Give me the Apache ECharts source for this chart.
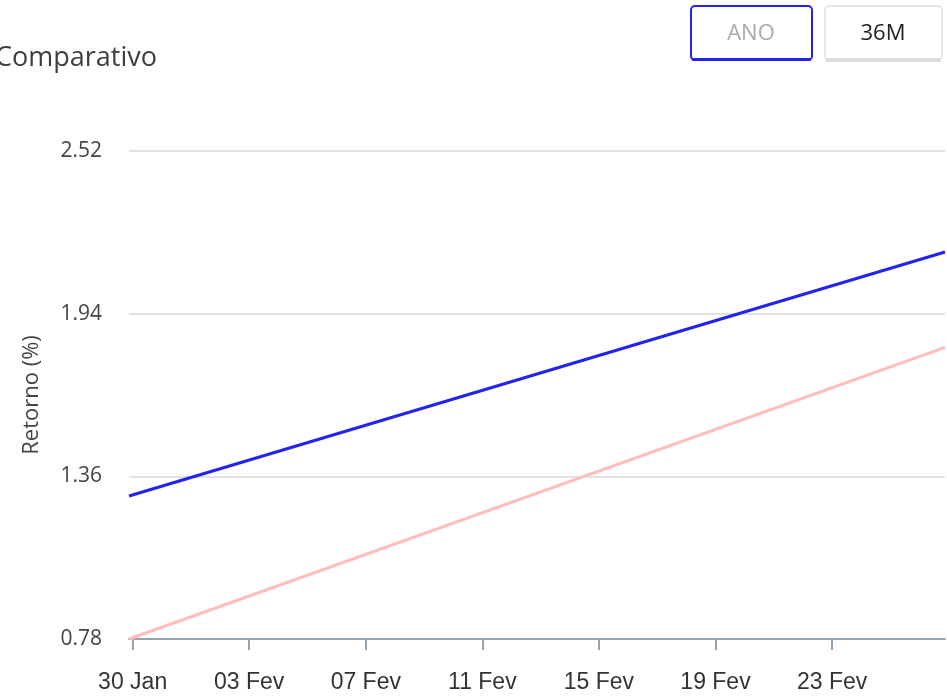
<!DOCTYPE html>
<html>
<head>
<meta charset="utf-8">
<script src="https://cdn.jsdelivr.net/npm/echarts@6/dist/echarts.min.js"></script>
<style>
  html, body { margin: 0; padding: 0; background: #fff; }
  #chart { width: 947px; height: 696px; }
</style>
</head>
<body>
<div id="chart"></div>
<script>
// dias a partir de 30 Jan (hora local), pontos vêm em UTC -> -3h
var xDays = [-0.125, 27.875];
var retornoFundo = [1.29, 2.16];
var retornoBench = [0.78, 1.82];
var xTickDays = [0, 4, 8, 12, 16, 20, 24];
var xTickLabels = ['30 Jan', '03 Fev', '07 Fev', '11 Fev', '15 Fev', '19 Fev', '23 Fev'];
var yTicks = [0.78, 1.36, 1.94, 2.52];

function pares(xs, ys) {
    return xs.map(function (x, i) { return [x, ys[i]]; });
}

var chart = echarts.init(document.getElementById('chart'));
var option = {
    animation: false,
    title: {
        text: 'Comparativo',
        left: -10,
        top: 40,
        textStyle: {
            fontFamily: 'Open Sans',
            fontSize: 27,
            fontWeight: 'normal',
            color: '#3b4044'
        }
    },
    grid: {
        left: 129,
        right: 2,
        top: 151,
        bottom: 57
    },
    xAxis: {
        type: 'value',
        min: xDays[0],
        max: xDays[xDays.length - 1],
        splitLine: { show: false },
        axisLine: { lineStyle: { color: '#94a3ae', width: 2 } },
        axisTick: {
            customValues: xTickDays,
            length: 11,
            lineStyle: { color: '#94a3ae', width: 2 }
        },
        axisLabel: {
            customValues: xTickDays,
            margin: 32,
            fontFamily: 'Liberation Sans',
            fontSize: 23,
            color: '#333',
            formatter: function (v) {
                var i = xTickDays.indexOf(Math.round(v));
                return i >= 0 ? xTickLabels[i] : '';
            }
        }
    },
    yAxis: {
        type: 'value',
        min: yTicks[0],
        max: yTicks[yTicks.length - 1],
        name: 'Retorno (%)',
        nameLocation: 'middle',
        nameGap: 86,
        nameTextStyle: {
            fontFamily: 'Open Sans',
            fontSize: 22,
            color: '#444'
        },
        axisLine: { show: false },
        axisTick: { show: false, customValues: yTicks },
        splitLine: { lineStyle: { color: '#e2e2e2', width: 2 } },
        axisLabel: {
            customValues: yTicks,
            margin: 27,
            fontFamily: 'Open Sans',
            fontSize: 21,
            color: '#444',
            formatter: function (v) { return v.toFixed(2); }
        }
    },
    series: [
        {
            name: 'Fundo',
            type: 'line',
            data: pares(xDays, retornoFundo),
            showSymbol: false,
            lineStyle: { color: '#2323ef', width: 3 }
        },
        {
            name: 'Benchmark',
            type: 'line',
            data: pares(xDays, retornoBench),
            showSymbol: false,
            lineStyle: { color: '#ffbdbd', width: 3 }
        }
    ],
    graphic: [
        {
            type: 'rect',
            shape: { x: 691, y: 6, width: 121, height: 54, r: 4 },
            style: { fill: '#fff', stroke: '#2323ef', lineWidth: 2 }
        },
        {
            type: 'rect',
            shape: { x: 692, y: 58, width: 119, height: 3, r: 1 },
            style: { fill: '#2323ef' }
        },
        {
            type: 'text',
            style: {
                x: 751, y: 34,
                text: 'ANO',
                align: 'center',
                verticalAlign: 'middle',
                fontFamily: 'Open Sans',
                fontSize: 22,
                fill: '#aaaaaa'
            }
        },
        {
            type: 'rect',
            shape: { x: 825, y: 6, width: 117, height: 54, r: 4 },
            style: { fill: '#fff', stroke: '#e6e6e6', lineWidth: 2 }
        },
        {
            type: 'rect',
            shape: { x: 826, y: 58, width: 115, height: 4, r: 1 },
            style: { fill: '#dcdcdc' }
        },
        {
            type: 'text',
            style: {
                x: 883, y: 34,
                text: '36M',
                align: 'center',
                verticalAlign: 'middle',
                fontFamily: 'Open Sans',
                fontSize: 22,
                fill: '#222'
            }
        }
    ]
};
chart.setOption(option);
</script>
</body>
</html>
